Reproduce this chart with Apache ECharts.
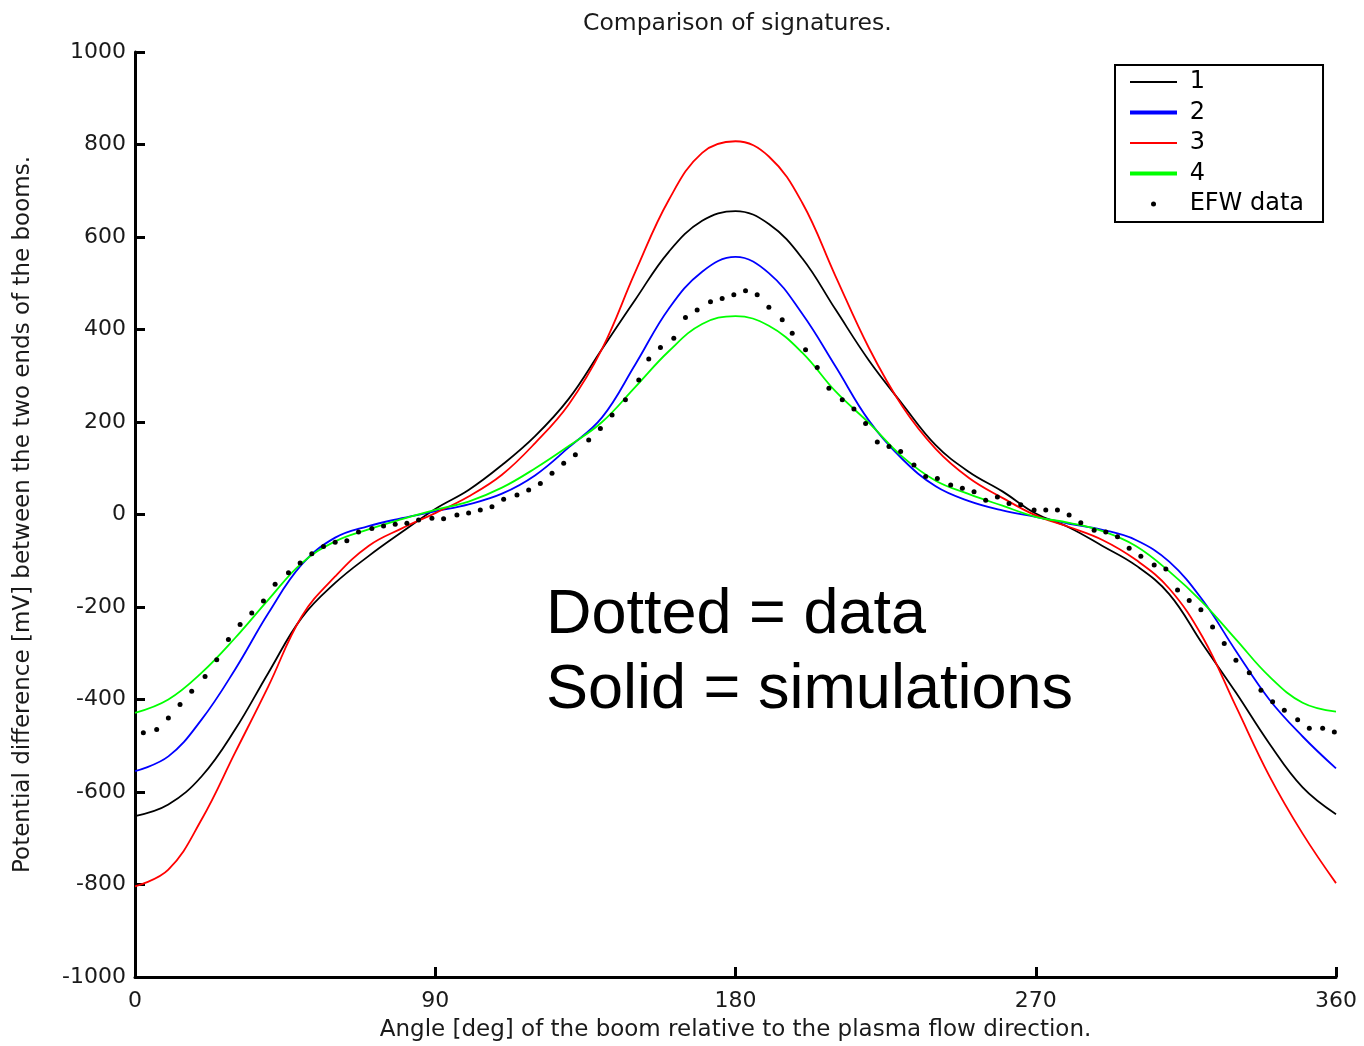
<!DOCTYPE html>
<html>
<head>
<meta charset="utf-8">
<title>Comparison of signatures</title>
<script src="https://cdn.jsdelivr.net/npm/echarts@6.0.0/dist/echarts.min.js"></script>
<style>
html, body { margin: 0; padding: 0; background: #fff; }
#chart { width: 1364px; height: 1046px; }
</style>
</head>
<body>
<div id="chart"></div>
<script>
// axis ticks
var xTicks = [0, 90, 180, 270, 360];
var yTicks = [-1000, -800, -600, -400, -200, 0, 200, 400, 600, 800, 1000];

// angles (deg) where the simulated curves were read
var angles = [0, 10, 20, 30, 40, 50, 60, 70, 80, 90, 100, 110, 120, 130, 140, 150, 160, 170, 180,
    190, 200, 210, 220, 230, 240, 250, 260, 270, 280, 290, 300, 310, 320, 330, 340, 350, 360];

// simulations (mV)
var sim1 = [-652, -627, -566, -465, -342, -223, -148, -90, -38, 12, 53, 107, 170, 250, 358, 465, 568, 635, 656,
    628, 554, 443, 333, 239, 150, 92, 50, 2, -28, -68, -110, -172, -280, -385, -495, -590, -648];
var sim2 = [-555, -523, -443, -335, -213, -108, -50, -25, -8, 7, 22, 45, 85, 145, 210, 325, 445, 525, 557,
    522, 434, 320, 203, 120, 61, 29, 9, -5, -20, -33, -55, -102, -185, -295, -400, -480, -549];
var sim3 = [-804, -768, -659, -515, -371, -220, -134, -68, -30, 3, 39, 86, 155, 238, 358, 525, 680, 782, 807,
    774, 674, 515, 360, 234, 142, 79, 36, -2, -27, -55, -98, -160, -265, -415, -565, -690, -797];
var sim4 = [-429, -400, -342, -267, -184, -105, -58, -32, -10, 10, 28, 58, 100, 148, 200, 276, 353, 412, 429,
    408, 350, 266, 198, 125, 73, 44, 19, -5, -18, -36, -68, -123, -190, -270, -350, -407, -426];

// EFW data
var efwAngles = [2.5, 6.5, 10, 13.5, 17, 21, 24.5, 28, 31.5, 35, 38.5, 42, 46, 49.5, 53, 56.5, 60, 63.5, 67, 71,
    74.5, 78, 81.5, 85, 89, 92.5, 96.5, 100, 103.5, 107, 110.5, 114.5, 118, 121.5, 125, 128.5, 132, 136, 139.5, 143,
    147, 151, 154, 157.5, 161.5, 165, 168.5, 172.5, 176, 179.5, 183, 186.5, 190, 194, 197, 201, 204.5, 208, 212, 215.5,
    219, 222.5, 226, 229.5, 233.5, 237, 240.5, 244.5, 248, 251.5, 255, 258.5, 262, 265.5, 269.5, 273, 276.5, 280, 283.5, 287.5,
    291, 294.5, 298, 301.5, 305.5, 309, 312.5, 316, 319.5, 323, 326.5, 330, 334, 337.5, 341, 344.5, 348.5, 352, 356, 359.5];
var efwValues = [-472, -465, -440, -411, -382, -350, -314, -270, -238, -213, -187, -151, -126, -105, -85, -69, -60, -57, -38, -30,
    -25, -21, -19, -12, -8, -9, -1, 3, 10, 17, 33, 42, 53, 67, 89, 111, 129, 161, 186, 215,
    248, 291, 336, 361, 381, 426, 442, 460, 467, 475, 484, 475, 448, 421, 392, 356, 318, 273, 248, 228,
    197, 157, 147, 136, 107, 82, 78, 64, 57, 49, 31, 38, 24, 21, 10, 10, 10, -1, -18, -34,
    -38, -48, -73, -90, -109, -118, -163, -186, -206, -243, -279, -315, -342, -380, -405, -423, -444, -462, -462, -470];

function pairs(xs, ys) {
    return xs.map(function (x, i) { return [x, ys[i]]; });
}

function simLine(name, values, color) {
    return {
        name: name,
        type: 'line',
        data: pairs(angles, values),
        smooth: 0.4,
        symbol: 'none',
        showSymbol: false,
        lineStyle: { color: color, width: 1.8 },
        itemStyle: { color: color },
        z: 2
    };
}

var axisStyle = { color: '#000', width: 3 };
var font = 'DejaVu Sans';
var noDot = { opacity: 0 };

var chart = echarts.init(document.getElementById('chart'));
chart.setOption({
    backgroundColor: '#fff',
    animation: false,
    textStyle: { fontFamily: font },
    title: {
        text: 'Comparison of signatures.',
        left: 583,
        top: 12,
        padding: 0,
        textStyle: { fontFamily: font, fontSize: 23.5, fontWeight: 'normal', color: '#1a1a1a' }
    },
    grid: { left: 135, right: 28, top: 52, bottom: 69, containLabel: false, outerBoundsMode: 'none' },
    legend: {
        orient: 'vertical',
        left: 1115,
        top: 65,
        padding: [5, 19, 6, 13],
        itemWidth: 47,
        itemHeight: 5,
        itemGap: 6.5,
        backgroundColor: '#fff',
        borderColor: '#000',
        borderWidth: 2,
        borderRadius: 0,
        formatter: function (name) { return ' ' + name; },
        textStyle: { fontFamily: font, fontSize: 24, color: '#000' },
        data: [
            { name: '1', lineStyle: { width: 2 }, itemStyle: noDot },
            { name: '2', lineStyle: { width: 4 }, itemStyle: noDot },
            { name: '3', lineStyle: { width: 2 }, itemStyle: noDot },
            { name: '4', lineStyle: { width: 4 }, itemStyle: noDot },
            { name: 'EFW data', itemStyle: { color: '#000', opacity: 1 } }
        ]
    },
    xAxis: {
        type: 'value',
        min: xTicks[0],
        max: xTicks[xTicks.length - 1],
        interval: xTicks[1] - xTicks[0],
        name: 'Angle [deg] of the boom relative to the plasma flow direction.',
        nameLocation: 'middle',
        nameGap: 42,
        nameTextStyle: { fontFamily: font, fontSize: 23, color: '#1a1a1a' },
        axisLine: { show: true, onZero: false, lineStyle: axisStyle },
        axisTick: { show: true, inside: true, length: 10, lineStyle: axisStyle },
        axisLabel: { margin: 13, fontFamily: font, fontSize: 22, color: '#1a1a1a',
            formatter: function (v) { return String(v); } },
        splitLine: { show: false }
    },
    yAxis: {
        type: 'value',
        min: yTicks[0],
        max: yTicks[yTicks.length - 1],
        interval: yTicks[1] - yTicks[0],
        name: 'Potential difference [mV] between the two ends of the booms.',
        nameLocation: 'middle',
        nameGap: 100,
        nameTextStyle: { fontFamily: font, fontSize: 23, color: '#1a1a1a' },
        axisLine: { show: true, onZero: false, lineStyle: axisStyle },
        axisTick: { show: true, inside: true, length: 10, lineStyle: axisStyle },
        axisLabel: { margin: 9, fontFamily: font, fontSize: 22, color: '#1a1a1a',
            formatter: function (v) { return String(v); } },
        splitLine: { show: false }
    },
    graphic: [
        {
            type: 'text', left: 546, top: 584, z: 10,
            style: { text: 'Dotted = data', font: '63px "Liberation Sans"', fill: '#000' }
        },
        {
            type: 'text', left: 546, top: 659, z: 10,
            style: { text: 'Solid = simulations', font: '63px "Liberation Sans"', fill: '#000' }
        }
    ],
    series: [
        simLine('1', sim1, '#000000'),
        simLine('2', sim2, '#0000ff'),
        simLine('3', sim3, '#ff0000'),
        simLine('4', sim4, '#00ff00'),
        {
            name: 'EFW data',
            type: 'scatter',
            data: pairs(efwAngles, efwValues),
            symbol: 'circle',
            symbolSize: 5,
            itemStyle: { color: '#000', opacity: 1 },
            z: 3
        }
    ]
});
</script>
</body>
</html>
